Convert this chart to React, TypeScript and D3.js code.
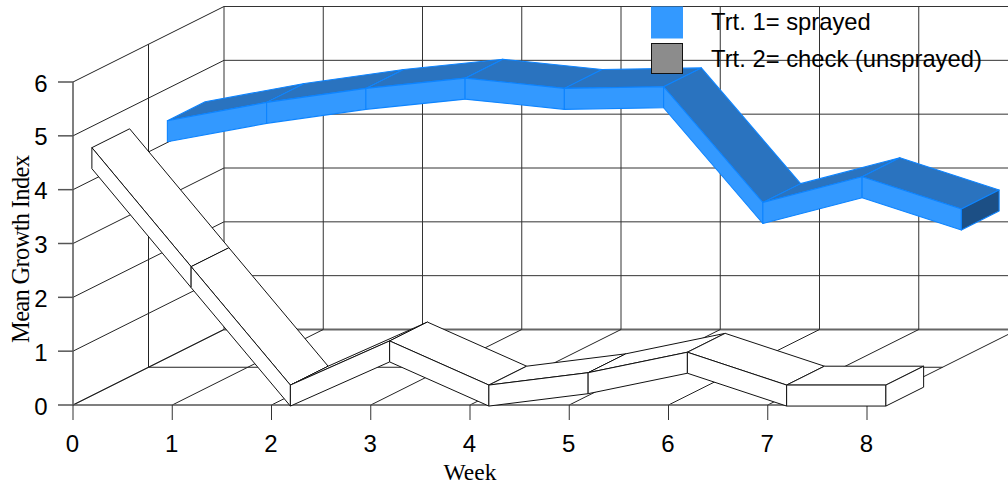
import React from "react";
import * as d3 from "d3";

// Weeks along the x axis and growth index per treatment
const weeks = [0, 1, 2, 3, 4, 5, 6, 7, 8];
const sprayed = [4.21, 4.55, 4.81, 5.0, 4.81, 4.84, 2.69, 3.17, 2.57];
const check = [4.41, 2.2, 0.0, 0.82, 0.0, 0.23, 0.61, 0.0, 0.0];
const yTicks = [0, 1, 2, 3, 4, 5, 6];
const legendLabels = ["Trt. 1= sprayed", "Trt. 2= check (unsprayed)"];

const WIDTH = 1008;
const HEIGHT = 487;

// Oblique projection: x to the right, value upward, depth up and to the right
const xScale = d3.scaleLinear().domain([0, 8]).range([73, 867]);
const yScale = d3.scaleLinear().domain([0, 6]).range([405, 82]);
const depthX = d3.scaleLinear().domain([0, 1]).range([0, 151]);
const depthY = d3.scaleLinear().domain([0, 1]).range([0, -75.5]);

type Pt = [number, number];
const project = (x: number, v: number, d: number): Pt => [
  xScale(x) + depthX(d),
  yScale(v) + depthY(d),
];
const poly = (pts: Pt[]) => (d3.line()(pts) ?? "") + "Z";

// Half of the ribbon's vertical thickness, in value units
const HALF = 0.195;

type RibbonStyle = { front: string; top: string; end: string; stroke: string; width: number };

function Ribbon({ values, d0, d1, style }: { values: number[]; d0: number; d1: number; style: RibbonStyle }) {
  const faces: React.ReactNode[] = [];
  for (let i = 0; i < values.length - 1; i++) {
    const a = values[i];
    const b = values[i + 1];
    const top = [
      project(weeks[i], a + HALF, d0),
      project(weeks[i + 1], b + HALF, d0),
      project(weeks[i + 1], b + HALF, d1),
      project(weeks[i], a + HALF, d1),
    ] as Pt[];
    const front = [
      project(weeks[i], a + HALF, d0),
      project(weeks[i + 1], b + HALF, d0),
      project(weeks[i + 1], b - HALF, d0),
      project(weeks[i], a - HALF, d0),
    ] as Pt[];
    faces.push(
      <g key={i}>
        <path d={poly(top)} fill={style.top} stroke={style.stroke} strokeWidth={style.width} strokeLinejoin="round" />
        <path d={poly(front)} fill={style.front} stroke={style.stroke} strokeWidth={style.width} strokeLinejoin="round" />
      </g>
    );
  }
  const n = values.length - 1;
  const cap = [
    project(weeks[n], values[n] + HALF, d0),
    project(weeks[n], values[n] + HALF, d1),
    project(weeks[n], values[n] - HALF, d1),
    project(weeks[n], values[n] - HALF, d0),
  ] as Pt[];
  return (
    <g>
      {faces}
      <path d={poly(cap)} fill={style.end} stroke={style.stroke} strokeWidth={style.width} strokeLinejoin="round" />
    </g>
  );
}

function Seg({ a, b, w = 1, c = "#222" }: { a: Pt; b: Pt; w?: number; c?: string }) {
  return <line x1={a[0]} y1={a[1]} x2={b[0]} y2={b[1]} stroke={c} strokeWidth={w} />;
}

export default function App() {
  const sans = "'Liberation Sans', Arial, sans-serif";
  const serif = "'Liberation Serif', 'Times New Roman', serif";
  const xMax = 8;
  return (
    <svg
      width={WIDTH}
      height={HEIGHT}
      viewBox={`0 0 ${WIDTH} ${HEIGHT}`}
      style={{ position: "absolute", left: 0, top: 0, background: "#fff" }}
    >
      {/* Wall and floor grid */}
      <g>
        {yTicks.map((t) => (
          <g key={t}>
            <Seg a={project(0, t, 0)} b={project(0, t, 1)} />
            <Seg a={project(0, t, 1)} b={project(xMax, t, 1)} c="#333" />
          </g>
        ))}
        <Seg a={project(0, 0, 0.5)} b={project(xMax, 0, 0.5)} />
        <Seg a={project(0, 0, 0.5)} b={project(0, 6, 0.5)} />
        <Seg a={project(0, 0, 1)} b={project(xMax, 0, 1)} w={2} c="#666" />
        {weeks.map((w) => (
          <g key={w}>
            <Seg a={project(w, 0, 0)} b={project(w, 0, 1)} />
            <Seg a={project(w, 0, 1)} b={project(w, 6, 1)} c="#333" />
          </g>
        ))}
        <Seg a={project(0, 0, 0)} b={project(xMax, 0, 0)} w={1.5} c="#555" />
        <Seg a={project(0, 0, 0)} b={project(0, 6, 0)} w={1.5} c="#555" />
      </g>

      {/* Axis ticks */}
      {yTicks.map((t) => (
        <g key={t}>
          <line x1={58} x2={xScale(0)} y1={yScale(t)} y2={yScale(t)} stroke="#555" strokeWidth={1.5} />
          <text x={47.5} y={yScale(t) + 9.5} fontFamily={sans} fontSize={24} textAnchor="end" fill="#000">
            {t}
          </text>
        </g>
      ))}
      {weeks.map((w) => (
        <g key={w}>
          <line x1={xScale(w)} x2={xScale(w)} y1={405} y2={420} stroke="#333" />
          <text x={xScale(w) - 0.5} y={452} fontFamily={sans} fontSize={24} textAnchor="middle" fill="#000">
            {w}
          </text>
        </g>
      ))}

      {/* Treatment ribbons, farther one first */}
      <Ribbon
        values={sprayed}
        d0={0.625}
        d1={0.875}
        style={{ front: "#3399ff", top: "#2a73bf", end: "#1c4f85", stroke: "#0d84ff", width: 1.1 }}
      />
      <Ribbon
        values={check}
        d0={0.125}
        d1={0.375}
        style={{ front: "#fff", top: "#fff", end: "#fff", stroke: "#111", width: 1 }}
      />

      {/* Legend */}
      <rect x={651.5} y={7} width={31} height={31} fill="#3399ff" stroke="#3399ff" />
      <rect x={651.5} y={43.5} width={31} height={30} fill="#8c8c8c" stroke="#111" />
      <text x={711} y={30} fontFamily={sans} fontSize={23.8} fill="#000">
        {legendLabels[0]}
      </text>
      <text x={711} y={67} fontFamily={sans} fontSize={23.8} fill="#000">
        {legendLabels[1]}
      </text>

      {/* Axis titles */}
      <text x={470} y={480} fontFamily={serif} fontSize={23.5} textAnchor="middle" fill="#000">
        Week
      </text>
      <text
        transform="translate(29,249) rotate(-90)"
        fontFamily={serif}
        fontSize={24.5}
        textAnchor="middle"
        textLength={188}
        lengthAdjust="spacing"
        fill="#000"
      >
        Mean Growth Index
      </text>
    </svg>
  );
}
